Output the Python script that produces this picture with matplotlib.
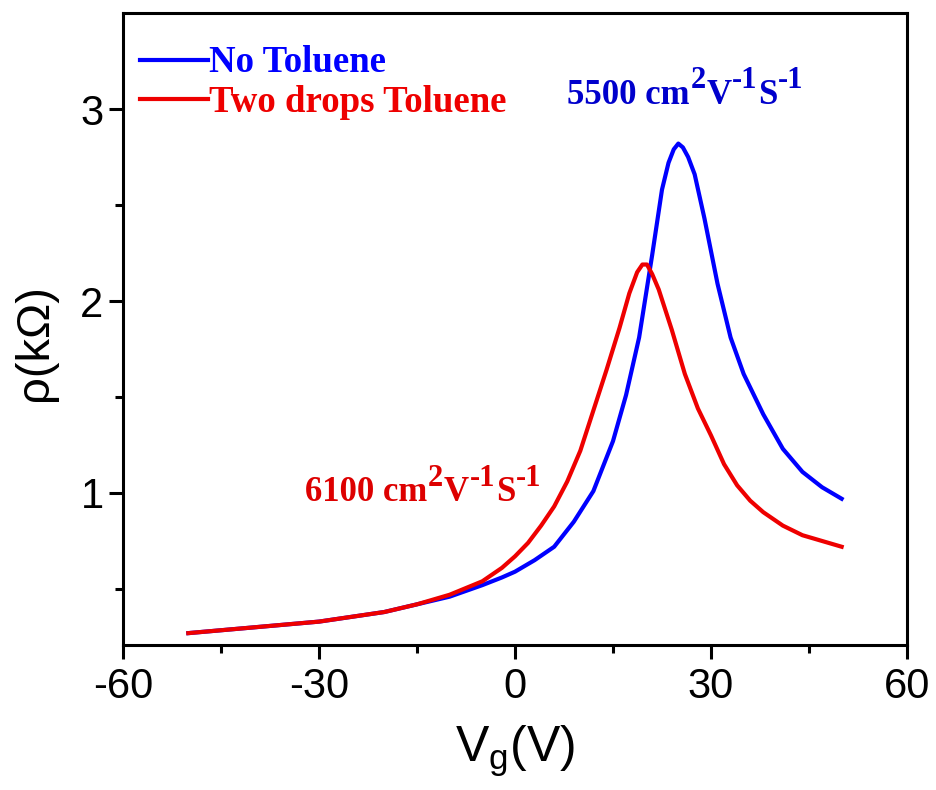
import numpy as np
import matplotlib
matplotlib.use("Agg")
import matplotlib.pyplot as plt

plt.rcParams['font.family'] = ['Liberation Sans', 'DejaVu Sans']
plt.rcParams['mathtext.fontset'] = 'custom'
plt.rcParams['mathtext.rm'] = 'Liberation Sans'
plt.rcParams['mathtext.sf'] = 'Liberation Sans'
plt.rcParams['axes.unicode_minus'] = False

# gate voltage (V) and resistivity (kOhm)
vg_no = [-50, -40, -30, -20, -15, -10, -5, -2, 0, 3, 6, 9, 12, 15, 17, 19, 21,
         22.5, 23.5, 24.3, 25, 25.7, 26.5, 27.5, 29, 31, 33, 35, 38, 41, 44, 47, 50]
rho_no = [0.27, 0.30, 0.33, 0.38, 0.42, 0.46, 0.52, 0.56, 0.59, 0.65, 0.72, 0.85,
          1.01, 1.27, 1.51, 1.81, 2.24, 2.58, 2.72, 2.79, 2.82, 2.80, 2.75, 2.66,
          2.43, 2.09, 1.81, 1.62, 1.41, 1.23, 1.11, 1.03, 0.97]

vg_tol = [-50, -40, -30, -20, -15, -10, -5, -2, 0, 2, 4, 6, 8, 10, 12, 14, 16,
          17.5, 18.7, 19.5, 20.2, 21, 22, 24, 26, 28, 30, 32, 34, 36, 38, 41, 44, 47, 50]
rho_tol = [0.27, 0.30, 0.33, 0.38, 0.42, 0.47, 0.54, 0.61, 0.67, 0.74, 0.83,
           0.93, 1.06, 1.22, 1.43, 1.64, 1.86, 2.04, 2.15, 2.19, 2.19, 2.14, 2.06,
           1.85, 1.62, 1.44, 1.30, 1.15, 1.04, 0.96, 0.90, 0.83, 0.78, 0.75, 0.72]

labels = ['No Toluene', 'Two drops Toluene']
mobility = ['5500', '6100']
unit_parts = [(' cm', False), ('2', True), ('V', False), ('-1', True),
              ('S', False), ('-1', True)]

fig = plt.figure(figsize=(9.36, 7.9), dpi=100)
ax = fig.add_axes([0.1314, 0.1835, 0.8376, 0.8])

ax.plot(vg_no, rho_no, color='#0000ff', lw=3, label=labels[0],
        solid_joinstyle='round')
ax.plot(vg_tol, rho_tol, color='#ee0000', lw=3, label=labels[1],
        solid_joinstyle='round')

ax.set_xlim(-60, 60)
ax.set_ylim(0.208, 3.5)
ax.set_xticks([-60, -30, 0, 30, 60])
ax.set_xticks([-45, -15, 15, 45], minor=True)
ax.set_yticks([1, 2, 3])
ax.set_yticks([0.5, 1.5, 2.5], minor=True)

for s in ax.spines.values():
    s.set_linewidth(2.2)
ax.tick_params(which='both', direction='out', width=2.2, top=False, right=False)
ax.tick_params(which='major', length=10, labelsize=30)
ax.tick_params(which='minor', length=6)
ax.tick_params(axis='x', which='major', pad=6)
ax.tick_params(axis='y', which='major', pad=4)

ax.set_xlabel(r'V$_\mathsf{g}$(V)', fontsize=36)
ax.set_ylabel(r'ρ(kΩ)', fontsize=34)
ax.xaxis.set_label_coords(0.5, -0.125)
ax.yaxis.set_label_coords(-0.084, 0.478)

leg = ax.legend(loc='upper left', bbox_to_anchor=(0.0, 0.975), frameon=False,
                handlelength=1.85, handletextpad=0.05, labelspacing=0.12,
                borderaxespad=0.05,
                prop={'family': 'Liberation Serif', 'weight': 'bold', 'size': 26.5},
                labelcolor='linecolor')


def mobility_label(x, y, value, color):
    # main text, then each unit piece placed right after the previous one
    t = ax.text(x, y, value + unit_parts[0][0], color=color, fontsize=25,
                fontweight='bold', family='Liberation Serif', ha='left',
                va='bottom')
    prev_sup = False
    for part, sup in unit_parts[1:]:
        dy = 12 if (sup and not prev_sup) else (-12 if (not sup and prev_sup) else 0)
        t = ax.annotate(part, xy=(1, 0), xycoords=t, xytext=(0.5, dy),
                        textcoords='offset points', color=color,
                        fontsize=22 if sup else 25, fontweight='bold',
                        family='Liberation Serif', ha='left', va='bottom')
        prev_sup = sup


mobility_label(8.0, 2.985, mobility[0], '#0000cc')
mobility_label(-32.1, 0.915, mobility[1], '#dd0000')

fig.savefig('out.png', dpi=100)
